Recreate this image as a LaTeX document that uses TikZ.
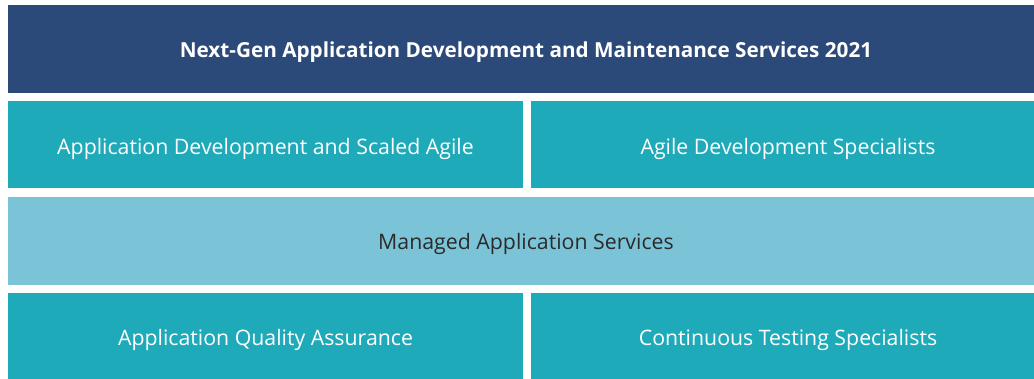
\documentclass[tikz,border=0pt]{standalone}
\usepackage{fontspec}
\setmainfont{Open Sans}
\begin{document}
\begin{tikzpicture}[x=1pt,y=-1pt,
  tile/.style={draw=none,inner sep=0pt,font=\fontsize{21.3}{24}\selectfont},
  navy/.style={tile,text=white},
  teal/.style={tile,text=white},
  light/.style={tile,text=darktext}]
\definecolor{headblue}{HTML}{2C4A79}
\definecolor{tealfill}{HTML}{1EAAB9}
\definecolor{lightfill}{HTML}{7BC3D6}
\definecolor{darktext}{HTML}{2B2B2B}
\useasboundingbox[fill=white] (0,0) rectangle (1034,379);
% header bar
\fill[headblue] (8,5) rectangle (1034,93);
\node[navy,font=\fontsize{20.7}{24}\selectfont\bfseries] (title) at (526,52) {Next-Gen Application Development and Maintenance Services 2021};
% second row
\fill[tealfill] (8,101) rectangle (523,188);
\fill[tealfill] (531,101) rectangle (1034,188);
\node[teal] (adsa) at (265.5,149) {Application Development and Scaled Agile};
\node[teal] (ads) at (788,149) {Agile Development Specialists};
% third row
\fill[lightfill] (8,197) rectangle (1034,285);
\node[light] (mas) at (526,244) {Managed Application Services};
% fourth row
\fill[tealfill] (8,293) rectangle (523,379);
\fill[tealfill] (531,293) rectangle (1034,379);
\node[teal] (aqa) at (265.5,340) {Application Quality Assurance};
\node[teal] (cts) at (788,340) {Continuous Testing Specialists};
\end{tikzpicture}
\end{document}
